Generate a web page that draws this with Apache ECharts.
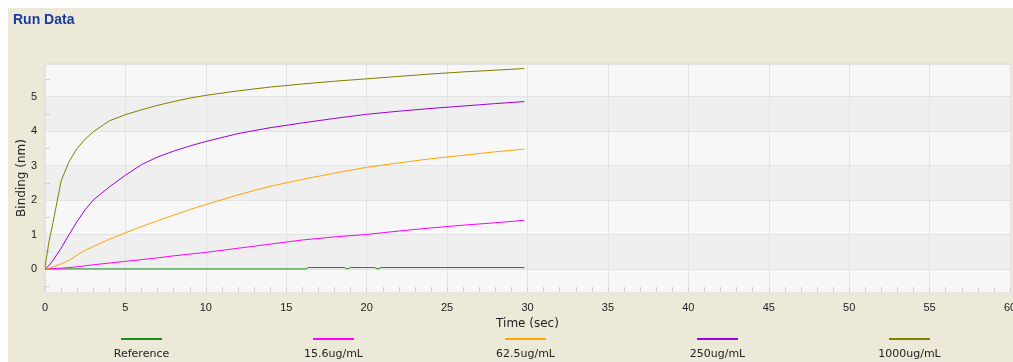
<!DOCTYPE html>
<html>
<head>
<meta charset="utf-8">
<script src="https://cdn.jsdelivr.net/npm/echarts@6/dist/echarts.min.js"></script>
<style>
html,body{margin:0;padding:0;background:#fff;}
#chart{width:1013px;height:362px;}
</style>
</head>
<body>
<div id="chart"></div>
<script>
var seriesNames = ['Reference', '15.6ug/mL', '62.5ug/mL', '250ug/mL', '1000ug/mL'];
var seriesColors = ['#1a8a1a', '#ff00ff', '#ffa500', '#9a00e0', '#808000'];

var times = [0, 0.25, 0.5, 1, 1.5, 2, 2.5, 3, 4, 5, 6, 7, 8, 9, 10, 12, 14, 16, 18, 20, 22, 24, 26, 28, 29.8];
var conc1000 = [0.05, 0.8, 1.35, 2.55, 3.12, 3.5, 3.77, 3.98, 4.3, 4.48, 4.62, 4.75, 4.86, 4.96, 5.04, 5.17, 5.28, 5.37, 5.45, 5.52, 5.59, 5.66, 5.72, 5.77, 5.82];
var conc250 = [0, 0.1, 0.25, 0.6, 1.0, 1.38, 1.72, 2.0, 2.38, 2.72, 3.03, 3.25, 3.42, 3.57, 3.70, 3.93, 4.1, 4.24, 4.37, 4.49, 4.58, 4.66, 4.73, 4.8, 4.86];
var conc62 = [0, 0.02, 0.06, 0.15, 0.25, 0.4, 0.54, 0.65, 0.86, 1.05, 1.23, 1.4, 1.56, 1.72, 1.87, 2.15, 2.4, 2.6, 2.78, 2.95, 3.08, 3.2, 3.3, 3.4, 3.48];
var conc15 = [0, 0, 0.01, 0.02, 0.04, 0.06, 0.09, 0.12, 0.17, 0.22, 0.27, 0.32, 0.38, 0.43, 0.48, 0.6, 0.72, 0.84, 0.93, 1.0, 1.1, 1.19, 1.27, 1.34, 1.41];
var refTimes = [0, 16.2, 16.4, 18.6, 18.8, 19.0, 20.5, 20.7, 20.9, 29.8];
var refVals = [0, 0, 0.04, 0.04, 0.0, 0.04, 0.04, 0.0, 0.04, 0.04];

var xTicks = [0, 5, 10, 15, 20, 25, 30, 35, 40, 45, 50, 55, 60];
var yTicks = [0, 1, 2, 3, 4, 5];
var yMinorTicks = [-0.5, 0.5, 1.5, 2.5, 3.5, 4.5, 5.5];
var yMin = -0.67, yMax = 5.95;

function pairs(ts, vs) { return ts.map(function (t, i) { return [t, vs[i]]; }); }
var seriesData = [pairs(refTimes, refVals), pairs(times, conc15), pairs(times, conc62), pairs(times, conc250), pairs(times, conc1000)];

var rich = { t: { width: 187, align: 'center', lineHeight: 29, fontSize: 11, fontFamily: 'DejaVu Sans', color: '#222' } };
seriesColors.forEach(function (c, i) {
  rich['l' + i] = { width: 41, height: 2, lineHeight: 2, backgroundColor: c, align: 'center' };
});

var chart = echarts.init(document.getElementById('chart'), null, { renderer: 'canvas' });
chart.setOption({
  animation: false,
  backgroundColor: '#ffffff',
  graphic: [{
    type: 'rect', left: 8, top: 8, z: -10,
    shape: { width: 1005, height: 354 },
    style: { fill: '#ece9d8' }
  }],
  title: {
    text: 'Run Data', left: 13, top: 13, padding: 0,
    textStyle: { fontFamily: 'Liberation Sans', fontWeight: 'bold', fontSize: 14, color: '#1a3c9e' }
  },
  legend: {
    left: 43, top: 333, padding: 0, itemGap: 0, itemWidth: 0, itemHeight: 0, icon: 'none',
    data: seriesNames,
    formatter: function (name) {
      var i = seriesNames.indexOf(name);
      return '{l' + i + '|}\n{t|' + name + '}';
    },
    textStyle: { rich: rich }
  },
  grid: {
    left: 45, right: 3, top: 64, bottom: 70, show: true, outerBoundsMode: 'none',
    borderColor: '#dadada', borderWidth: 1, backgroundColor: '#f7f7f7'
  },
  xAxis: {
    type: 'value', min: xTicks[0], max: xTicks[xTicks.length - 1], interval: 5,
    name: 'Time (sec)', nameLocation: 'middle', nameGap: 25,
    nameTextStyle: { fontFamily: 'DejaVu Sans', fontSize: 12, color: '#222' },
    axisLine: { show: false, onZero: false },
    axisTick: { show: true, inside: true, length: 5, lineStyle: { color: '#d0d0d0' } },
    minorTick: { show: true, splitNumber: 5, length: 5, lineStyle: { color: '#d0d0d0' } },
    axisLabel: { margin: 10, fontFamily: 'Liberation Sans', fontSize: 11, color: '#222' },
    splitLine: { show: true, lineStyle: { color: '#e3e3e3', width: 1 } }
  },
  yAxis: [{
    type: 'value', min: yMin, max: yMax, position: 'left',
    name: 'Binding (nm)', nameLocation: 'middle', nameRotate: 90, nameGap: 17, nameMoveOverlap: false,
    nameTextStyle: { fontFamily: 'DejaVu Sans', fontSize: 12, color: '#222' },
    axisLine: { show: false, onZero: false },
    axisTick: { show: false },
    axisLabel: {
      margin: 8, fontFamily: 'Liberation Sans', fontSize: 11, color: '#222',
      formatter: function (v) { return yTicks.indexOf(v) >= 0 ? String(v) : ''; }
    },
    splitLine: { show: true, lineStyle: { color: '#e3e3e3', width: 1 } },
    splitArea: { show: true, areaStyle: { color: ['#f7f7f7', '#efefef'] } }
  }, {
    type: 'value', min: yMin, max: yMax, position: 'left', offset: 0,
    axisLine: { show: false, onZero: false },
    axisTick: { show: true, inside: true, length: 5, customValues: yMinorTicks, lineStyle: { color: '#d0d0d0' } },
    axisLabel: { show: false },
    splitLine: { show: false },
    splitArea: { show: false }
  }],
  series: seriesNames.map(function (n, i) {
    return {
      name: n, type: 'line', data: seriesData[i], showSymbol: false, symbol: 'none',
      color: seriesColors[i],
      lineStyle: { width: 1, color: seriesColors[i] },
      z: 2 + i
    };
  })
});
</script>
</body>
</html>
